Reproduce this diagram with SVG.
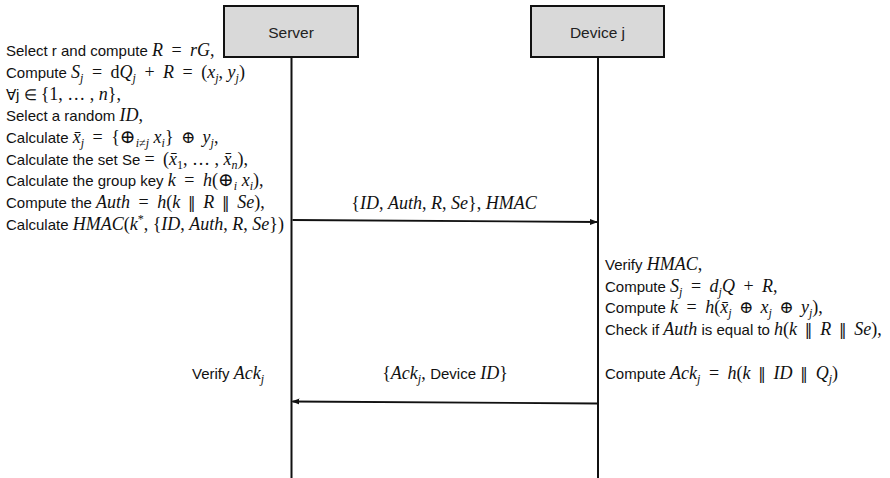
<svg xmlns="http://www.w3.org/2000/svg" width="890" height="478" viewBox="0 0 890 478">
<style>
.t{font-family:"Liberation Sans",Arial,sans-serif;font-size:15px;fill:#111}
.m{font-family:"Liberation Serif","Times New Roman",serif;font-style:italic;font-size:18px}
.u{font-family:"Liberation Serif","Times New Roman",serif;font-style:normal;font-size:18px}
.r{word-spacing:4px}
.s{font-size:12px}
.op{font-family:"DejaVu Serif","Liberation Serif",serif;font-style:normal;font-size:17px;word-spacing:2px}
.pp{font-family:"DejaVu Sans",sans-serif;font-style:normal;font-size:15px;word-spacing:3px}
.big{font-family:"DejaVu Serif","Liberation Serif",serif;font-style:normal;font-size:19px}
.box{fill:#d9d9d9;stroke:#111;stroke-width:2}
.life{stroke:#111;stroke-width:2;fill:none}
.msg{stroke:#111;stroke-width:1.8;fill:none}
.lbl{font-family:"Liberation Sans",Arial,sans-serif;font-size:15.5px;fill:#222}
</style>
<defs>
<marker id="ah" markerWidth="8" markerHeight="8" refX="7" refY="4" orient="auto" markerUnits="userSpaceOnUse">
<path d="M0,1 L8,4 L0,7 Z" fill="#111"/>
</marker>
</defs>

<g id="server">
<rect class="box" x="224" y="6" width="134" height="51"/>
<text class="lbl" x="291" y="38" text-anchor="middle">Server</text>
</g>
<g id="device">
<rect class="box" x="531" y="6" width="133" height="51"/>
<text class="lbl" x="597.5" y="38" text-anchor="middle">Device j</text>
</g>

<g id="connectors">
<line class="life" x1="291.5" y1="57" x2="291.5" y2="478"/>
<line class="life" x1="598" y1="57" x2="598" y2="478"/>
<line class="msg" x1="292.5" y1="220" x2="597" y2="222" marker-end="url(#ah)"/>
<line class="msg" x1="597" y1="403.5" x2="292.5" y2="401.5" marker-end="url(#ah)"/>
</g>

<g id="server-ops">
<text class="t" x="6" y="56">Select r and compute <tspan class="m">R</tspan><tspan class="u r"> = </tspan><tspan class="m">rG</tspan><tspan class="u">,</tspan></text>
<text class="t" x="6" y="78">Compute <tspan class="m">S<tspan class="s" baseline-shift="-4">j</tspan></tspan><tspan class="u r"> = d</tspan><tspan class="m">Q<tspan class="s" baseline-shift="-4">j</tspan></tspan><tspan class="u r"> + </tspan><tspan class="m">R</tspan><tspan class="u r"> = </tspan><tspan class="u" font-size="21">(</tspan><tspan class="m">x<tspan class="s" baseline-shift="-4">j</tspan></tspan><tspan class="u">, </tspan><tspan class="m">y<tspan class="s" baseline-shift="-4">j</tspan></tspan><tspan class="u" font-size="21">)</tspan></text>
<text class="t" x="6" y="99.5">∀j  ∈ <tspan class="u">{1, … , </tspan><tspan class="m">n</tspan><tspan class="u">},</tspan></text>
<text class="t" x="6" y="121">Select a random <tspan class="m">ID</tspan><tspan class="u">,</tspan></text>
<text class="t" x="6" y="143">Calculate <tspan class="m">x̄<tspan class="s" baseline-shift="-4">j</tspan></tspan><tspan class="u r"> = </tspan><tspan class="u" font-size="20">{</tspan><tspan class="big">⊕</tspan><tspan class="m s" baseline-shift="-4">i≠j</tspan><tspan class="m"> x<tspan class="s" baseline-shift="-4">i</tspan></tspan><tspan class="u" font-size="20">}</tspan><tspan class="op"> ⊕ </tspan><tspan class="m">y<tspan class="s" baseline-shift="-4">j</tspan></tspan><tspan class="u">,</tspan></text>
<text class="t" x="6" y="164.5">Calculate the set Se <tspan class="u r">= </tspan><tspan class="u">(</tspan><tspan class="m">x̄<tspan class="u s" baseline-shift="-4">1</tspan></tspan><tspan class="u">, … , </tspan><tspan class="m">x̄<tspan class="s" baseline-shift="-4">n</tspan></tspan><tspan class="u">),</tspan></text>
<text class="t" x="6" y="186">Calculate the group key <tspan class="m">k</tspan><tspan class="u r"> = </tspan><tspan class="m">h</tspan><tspan class="u">(</tspan><tspan class="big">⊕</tspan><tspan class="m s" baseline-shift="-4">i</tspan><tspan class="m"> x<tspan class="s" baseline-shift="-4">i</tspan></tspan><tspan class="u">),</tspan></text>
<text class="t" x="6" y="208">Compute the <tspan class="m">Auth</tspan><tspan class="u r"> = </tspan><tspan class="m">h</tspan><tspan class="u">(</tspan><tspan class="m">k</tspan><tspan class="pp"> ‖ </tspan><tspan class="m">R</tspan><tspan class="pp"> ‖ </tspan><tspan class="m">Se</tspan><tspan class="u">),</tspan></text>
<text class="t" x="6" y="229.5">Calculate <tspan class="m">HMAC</tspan><tspan class="u">(</tspan><tspan class="m">k</tspan><tspan class="u s" baseline-shift="7">*</tspan><tspan class="u">, {</tspan><tspan class="m">ID</tspan><tspan class="u">, </tspan><tspan class="m">Auth</tspan><tspan class="u">, </tspan><tspan class="m">R</tspan><tspan class="u">, </tspan><tspan class="m">Se</tspan><tspan class="u">})</tspan></text>
</g>

<g id="msg1-label">
<text class="t" x="444" y="209" text-anchor="middle"><tspan class="u">{</tspan><tspan class="m">ID</tspan><tspan class="u">, </tspan><tspan class="m">Auth</tspan><tspan class="u">, </tspan><tspan class="m">R</tspan><tspan class="u">, </tspan><tspan class="m">Se</tspan><tspan class="u">}, </tspan><tspan class="m">HMAC</tspan></text>
</g>

<g id="device-ops">
<text class="t" x="605" y="270">Verify <tspan class="m">HMAC</tspan><tspan class="u">,</tspan></text>
<text class="t" x="605" y="291.5">Compute <tspan class="m">S<tspan class="s" baseline-shift="-4">j</tspan></tspan><tspan class="u r"> = </tspan><tspan class="m">d<tspan class="s" baseline-shift="-4">j</tspan>Q</tspan><tspan class="u r"> + </tspan><tspan class="m">R</tspan><tspan class="u">,</tspan></text>
<text class="t" x="605" y="313">Compute <tspan class="m">k</tspan><tspan class="u r"> = </tspan><tspan class="m">h</tspan><tspan class="u" font-size="21">(</tspan><tspan class="m">x̄<tspan class="s" baseline-shift="-4">j</tspan></tspan><tspan class="op"> ⊕ </tspan><tspan class="m">x<tspan class="s" baseline-shift="-4">j</tspan></tspan><tspan class="op"> ⊕ </tspan><tspan class="m">y<tspan class="s" baseline-shift="-4">j</tspan></tspan><tspan class="u" font-size="21">)</tspan><tspan class="u">,</tspan></text>
<text class="t" x="605" y="335">Check if <tspan class="m">Auth</tspan> is equal to <tspan class="m">h</tspan><tspan class="u">(</tspan><tspan class="m">k</tspan><tspan class="pp"> ‖ </tspan><tspan class="m">R</tspan><tspan class="pp"> ‖ </tspan><tspan class="m">Se</tspan><tspan class="u">),</tspan></text>
<text class="t" x="605" y="378.5">Compute <tspan class="m">Ack<tspan class="s" baseline-shift="-4">j</tspan></tspan><tspan class="u r"> = </tspan><tspan class="m">h</tspan><tspan class="u">(</tspan><tspan class="m">k</tspan><tspan class="pp"> ‖ </tspan><tspan class="m">ID</tspan><tspan class="pp"> ‖ </tspan><tspan class="m">Q<tspan class="s" baseline-shift="-4">j</tspan></tspan><tspan class="u">)</tspan></text>
</g>

<g id="msg2-label">
<text class="t" x="445" y="379" text-anchor="middle"><tspan class="u">{</tspan><tspan class="m">Ack<tspan class="s" baseline-shift="-4">j</tspan></tspan><tspan class="u">, </tspan>Device <tspan class="m">ID</tspan><tspan class="u">}</tspan></text>
</g>

<g id="server-verify">
<text class="t" x="192" y="379">Verify <tspan class="m">Ack<tspan class="s" baseline-shift="-4">j</tspan></tspan></text>
</g>
</svg>
